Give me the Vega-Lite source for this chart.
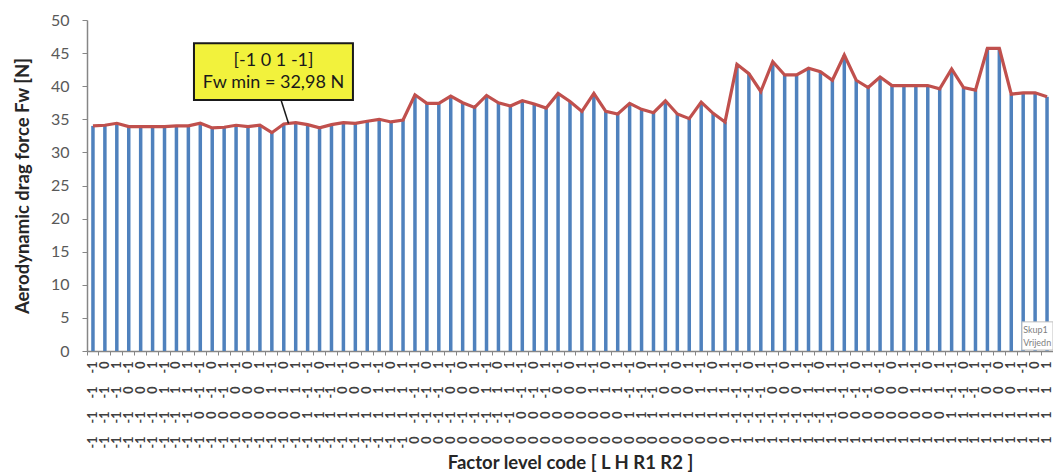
{
  "$schema": "https://vega.github.io/schema/vega-lite/v6.json",
  "width": 966,
  "height": 331,
  "autosize": {"type": "none"},
  "padding": {"left": 87, "top": 20, "right": 0, "bottom": 124},
  "background": "white",
  "config": {"view": {"stroke": null}, "font": "Lato",
    "axisY": {"grid": false, "domainColor": "#868686", "domainWidth": 1.5, "tickColor": "#868686", "tickSize": 5,
      "labelFont": "Lato", "labelFontSize": 16, "labelColor": "#595959", "labelPadding": 13, "labelOverlap": false,
      "titleFont": "Lato", "titleFontSize": 18.5, "titleFontWeight": "bold", "titleColor": "#262626", "titlePadding": 18}},
  "datasets": {
    "fw": [
      {"code": "-1 -1 -1 -1", "Fw": 34.0}, {"code": "-1 -1 -1 0", "Fw": 34.1}, {"code": "-1 -1 -1 1", "Fw": 34.4},
      {"code": "-1 -1 0 -1", "Fw": 33.9}, {"code": "-1 -1 0 0", "Fw": 33.9}, {"code": "-1 -1 0 1", "Fw": 33.9},
      {"code": "-1 -1 1 -1", "Fw": 33.9}, {"code": "-1 -1 1 0", "Fw": 34.0}, {"code": "-1 -1 1 1", "Fw": 34.0},
      {"code": "-1 0 -1 -1", "Fw": 34.4}, {"code": "-1 0 -1 0", "Fw": 33.7}, {"code": "-1 0 -1 1", "Fw": 33.8},
      {"code": "-1 0 0 -1", "Fw": 34.1}, {"code": "-1 0 0 0", "Fw": 33.9}, {"code": "-1 0 0 1", "Fw": 34.1},
      {"code": "-1 0 1 -1", "Fw": 32.98}, {"code": "-1 0 1 0", "Fw": 34.3}, {"code": "-1 0 1 1", "Fw": 34.5},
      {"code": "-1 1 -1 -1", "Fw": 34.2}, {"code": "-1 1 -1 0", "Fw": 33.7}, {"code": "-1 1 -1 1", "Fw": 34.2},
      {"code": "-1 1 0 -1", "Fw": 34.5}, {"code": "-1 1 0 0", "Fw": 34.4}, {"code": "-1 1 0 1", "Fw": 34.7},
      {"code": "-1 1 1 -1", "Fw": 35.0}, {"code": "-1 1 1 0", "Fw": 34.6}, {"code": "-1 1 1 1", "Fw": 34.9},
      {"code": "0 -1 -1 -1", "Fw": 38.7}, {"code": "0 -1 -1 0", "Fw": 37.4}, {"code": "0 -1 -1 1", "Fw": 37.4},
      {"code": "0 -1 0 -1", "Fw": 38.5}, {"code": "0 -1 0 0", "Fw": 37.5}, {"code": "0 -1 0 1", "Fw": 36.8},
      {"code": "0 -1 1 -1", "Fw": 38.6}, {"code": "0 -1 1 0", "Fw": 37.5}, {"code": "0 -1 1 1", "Fw": 37.0},
      {"code": "0 0 -1 -1", "Fw": 37.8}, {"code": "0 0 -1 0", "Fw": 37.3}, {"code": "0 0 -1 1", "Fw": 36.7},
      {"code": "0 0 0 -1", "Fw": 38.9}, {"code": "0 0 0 0", "Fw": 37.7}, {"code": "0 0 0 1", "Fw": 36.2},
      {"code": "0 0 1 -1", "Fw": 38.9}, {"code": "0 0 1 0", "Fw": 36.2}, {"code": "0 0 1 1", "Fw": 35.8},
      {"code": "0 1 -1 -1", "Fw": 37.4}, {"code": "0 1 -1 0", "Fw": 36.5}, {"code": "0 1 -1 1", "Fw": 36.0},
      {"code": "0 1 0 -1", "Fw": 37.8}, {"code": "0 1 0 0", "Fw": 35.8}, {"code": "0 1 0 1", "Fw": 35.1},
      {"code": "0 1 1 -1", "Fw": 37.6}, {"code": "0 1 1 0", "Fw": 35.9}, {"code": "0 1 1 1", "Fw": 34.6},
      {"code": "1 -1 -1 -1", "Fw": 43.3}, {"code": "1 -1 -1 0", "Fw": 41.9}, {"code": "1 -1 -1 1", "Fw": 39.2},
      {"code": "1 -1 0 -1", "Fw": 43.7}, {"code": "1 -1 0 0", "Fw": 41.7}, {"code": "1 -1 0 1", "Fw": 41.7},
      {"code": "1 -1 1 -1", "Fw": 42.7}, {"code": "1 -1 1 0", "Fw": 42.2}, {"code": "1 -1 1 1", "Fw": 40.9},
      {"code": "1 0 -1 -1", "Fw": 44.7}, {"code": "1 0 -1 0", "Fw": 40.9}, {"code": "1 0 -1 1", "Fw": 39.8},
      {"code": "1 0 0 -1", "Fw": 41.4}, {"code": "1 0 0 0", "Fw": 40.1}, {"code": "1 0 0 1", "Fw": 40.1},
      {"code": "1 0 1 -1", "Fw": 40.1}, {"code": "1 0 1 0", "Fw": 40.1}, {"code": "1 0 1 1", "Fw": 39.6},
      {"code": "1 1 -1 -1", "Fw": 42.6}, {"code": "1 1 -1 0", "Fw": 39.8}, {"code": "1 1 -1 1", "Fw": 39.4},
      {"code": "1 1 0 -1", "Fw": 45.7}, {"code": "1 1 0 0", "Fw": 45.7}, {"code": "1 1 0 1", "Fw": 38.8},
      {"code": "1 1 1 -1", "Fw": 39.0}, {"code": "1 1 1 0", "Fw": 39.0}, {"code": "1 1 1 1", "Fw": 38.4}
    ]
  },
  "data": {"name": "fw"},
  "resolve": {"scale": {"x": "independent"}, "axis": {"x": "independent"}},
  "layer": [
    {
      "mark": {"type": "bar", "width": 3.5, "color": "#4F81BD"},
      "encoding": {
        "x": {"field": "code", "type": "nominal", "sort": null,
          "scale": {"type": "band", "paddingInner": 0, "paddingOuter": 0},
          "axis": {"orient": "bottom", "labels": false, "title": null, "domainColor": "#868686", "domainWidth": 1.5, "tickColor": "#868686", "tickSize": 4, "bandPosition": 0}},
        "y": {"field": "Fw", "type": "quantitative", "title": "Aerodynamic drag force Fw [N]",
          "scale": {"domain": [0, 50], "nice": false},
          "axis": {"values": [0, 5, 10, 15, 20, 25, 30, 35, 40, 45, 50]}}
      }
    },
    {
      "mark": {"type": "line", "color": "#C0504D", "strokeWidth": 3.2},
      "encoding": {
        "x": {"field": "code", "type": "nominal", "sort": null, "bandPosition": 0.5,
          "scale": {"type": "band", "paddingInner": 0, "paddingOuter": 0},
          "axis": {"orient": "bottom", "offset": 0, "title": null, "domain": false, "ticks": false, "tickSize": 0, "labelPadding": 10, "labelAngle": 270, "labelOverlap": false,
            "labelFont": "Lato", "labelFontSize": 12.5, "labelFontWeight": "bold", "labelColor": "#404040", "labelExpr": "split(datum.value, ' ')[3]"}},
        "y": {"field": "Fw", "type": "quantitative", "title": "Aerodynamic drag force Fw [N]",
          "axis": {"values": [0, 5, 10, 15, 20, 25, 30, 35, 40, 45, 50]}}
      }
    },
    {
      "mark": {"type": "point", "opacity": 0},
      "encoding": {
        "x": {"field": "code", "type": "nominal", "sort": null,
          "scale": {"type": "band", "paddingInner": 0, "paddingOuter": 0},
          "axis": {"orient": "bottom", "offset": 25, "title": null, "domain": false, "ticks": false, "tickSize": 0, "labelPadding": 10, "labelAngle": 270, "labelOverlap": false,
            "labelFont": "Lato", "labelFontSize": 12.5, "labelFontWeight": "bold", "labelColor": "#404040", "labelExpr": "split(datum.value, ' ')[2]"}}
      }
    },
    {
      "mark": {"type": "point", "opacity": 0},
      "encoding": {
        "x": {"field": "code", "type": "nominal", "sort": null,
          "scale": {"type": "band", "paddingInner": 0, "paddingOuter": 0},
          "axis": {"orient": "bottom", "offset": 50, "title": null, "domain": false, "ticks": false, "tickSize": 0, "labelPadding": 10, "labelAngle": 270, "labelOverlap": false,
            "labelFont": "Lato", "labelFontSize": 12.5, "labelFontWeight": "bold", "labelColor": "#404040", "labelExpr": "split(datum.value, ' ')[1]"}}
      }
    },
    {
      "mark": {"type": "point", "opacity": 0},
      "encoding": {
        "x": {"field": "code", "type": "nominal", "sort": null,
          "scale": {"type": "band", "paddingInner": 0, "paddingOuter": 0},
          "axis": {"orient": "bottom", "offset": 75, "title": "Factor level code [ L H R1 R2 ]", "domain": false, "ticks": false, "tickSize": 0, "labelPadding": 10, "labelAngle": 270, "labelOverlap": false,
            "labelFont": "Lato", "labelFontSize": 12.5, "labelFontWeight": "bold", "labelColor": "#404040", "labelExpr": "split(datum.value, ' ')[0]",
            "titleFont": "Lato", "titleFontSize": 18.5, "titleFontWeight": "bold", "titleColor": "#262626", "titlePadding": 6}}
      }
    },
    {
      "data": {"values": [{"u": 8.97, "u2": 22.3, "v": 46.5, "v2": 37.9}]},
      "mark": {"type": "rect", "fill": "#F2F23C", "stroke": "#1A1A1A", "strokeWidth": 2},
      "encoding": {
        "x": {"field": "u", "type": "quantitative", "scale": {"domain": [0, 81], "nice": false, "zero": false}, "axis": null},
        "x2": {"field": "u2"},
        "y": {"field": "v", "type": "quantitative", "title": "Aerodynamic drag force Fw [N]", "axis": {"values": [0, 5, 10, 15, 20, 25, 30, 35, 40, 45, 50]}},
        "y2": {"field": "v2"}
      }
    },
    {
      "data": {"values": [{"u": 16.27, "u2": 16.9, "v": 37.9, "v2": 34.37}]},
      "mark": {"type": "rule", "color": "#1A1A1A", "strokeWidth": 1.5},
      "encoding": {
        "x": {"field": "u", "type": "quantitative", "scale": {"domain": [0, 81], "nice": false, "zero": false}, "axis": null},
        "x2": {"field": "u2"},
        "y": {"field": "v", "type": "quantitative", "title": "Aerodynamic drag force Fw [N]", "axis": {"values": [0, 5, 10, 15, 20, 25, 30, 35, 40, 45, 50]}},
        "y2": {"field": "v2"}
      }
    },
    {
      "data": {"values": [{"u": 15.64, "v": 43.8, "t": "[-1 0 1 -1]"}, {"u": 15.64, "v": 40.5, "t": "Fw min = 32,98 N"}]},
      "mark": {"type": "text", "font": "Lato", "fontSize": 18, "color": "#1A1A1A", "align": "center", "baseline": "middle"},
      "encoding": {
        "x": {"field": "u", "type": "quantitative", "scale": {"domain": [0, 81], "nice": false, "zero": false}, "axis": null},
        "y": {"field": "v", "type": "quantitative", "title": "Aerodynamic drag force Fw [N]", "axis": {"values": [0, 5, 10, 15, 20, 25, 30, 35, 40, 45, 50]}},
        "text": {"field": "t"}
      }
    },
    {
      "data": {"values": [{"u": 78.4, "u2": 81, "v": 4.4, "v2": 0.15}]},
      "mark": {"type": "rect", "fill": "white", "stroke": "#BFBFBF", "strokeWidth": 1},
      "encoding": {
        "x": {"field": "u", "type": "quantitative", "scale": {"domain": [0, 81], "nice": false, "zero": false}, "axis": null},
        "x2": {"field": "u2"},
        "y": {"field": "v", "type": "quantitative", "title": "Aerodynamic drag force Fw [N]", "axis": {"values": [0, 5, 10, 15, 20, 25, 30, 35, 40, 45, 50]}},
        "y2": {"field": "v2"}
      }
    },
    {
      "data": {"values": [{"u": 78.5, "v": 3.1, "t": "Skup1"}, {"u": 78.5, "v": 1.2, "t": "Vrijedn"}]},
      "mark": {"type": "text", "font": "Lato", "fontSize": 9, "color": "#7F7F7F", "align": "left", "baseline": "middle"},
      "encoding": {
        "x": {"field": "u", "type": "quantitative", "scale": {"domain": [0, 81], "nice": false, "zero": false}, "axis": null},
        "y": {"field": "v", "type": "quantitative", "title": "Aerodynamic drag force Fw [N]", "axis": {"values": [0, 5, 10, 15, 20, 25, 30, 35, 40, 45, 50]}},
        "text": {"field": "t"}
      }
    }
  ]
}
